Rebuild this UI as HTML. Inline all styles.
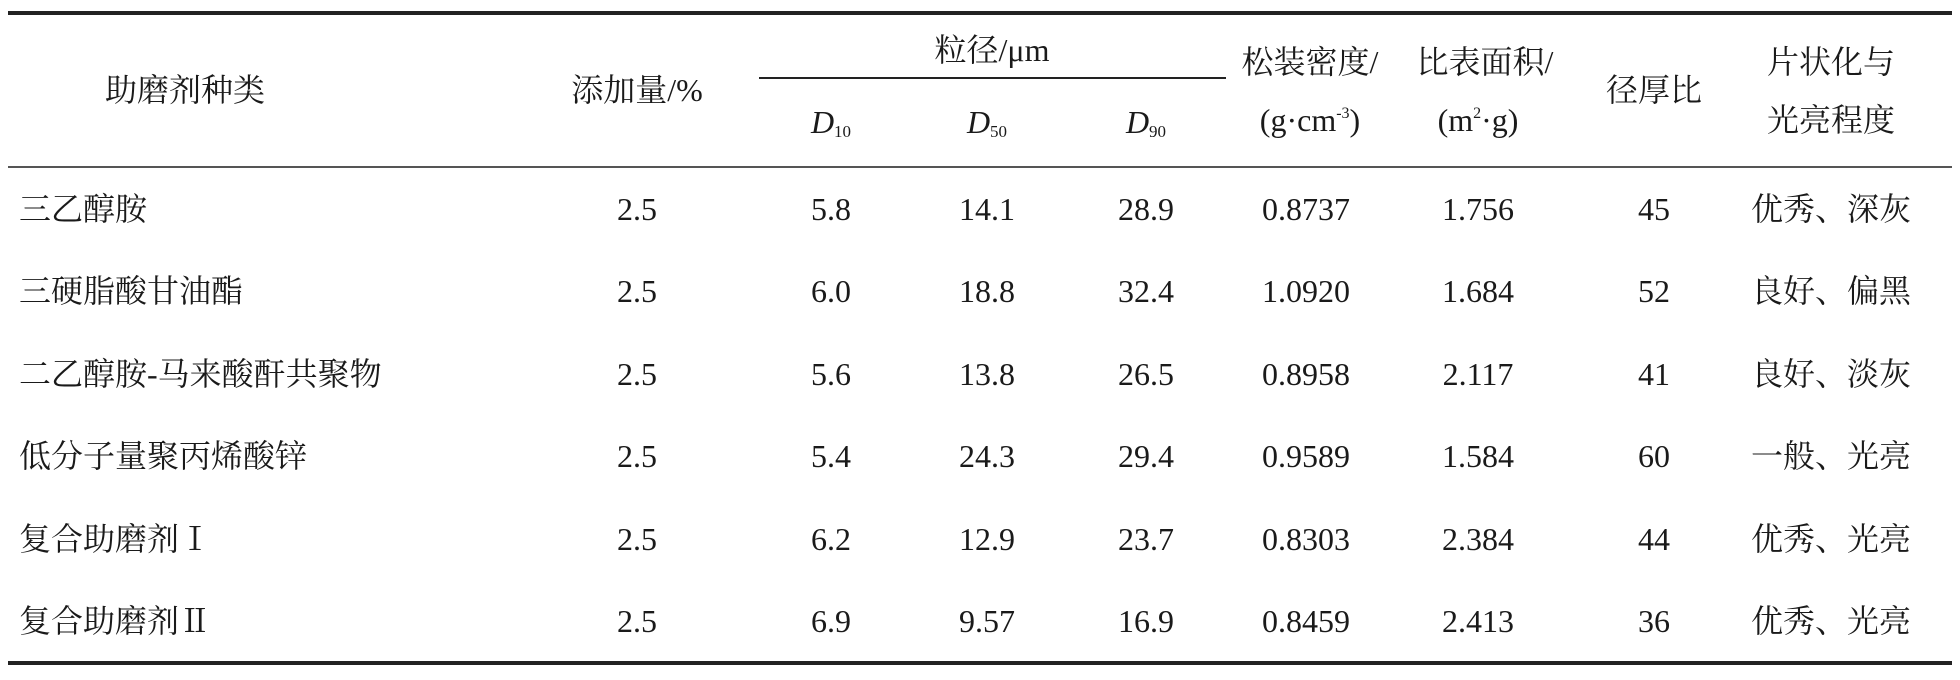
<!DOCTYPE html>
<html><head><meta charset="utf-8"><style>
body{margin:0;width:1960px;height:680px;background:#fff;position:relative;overflow:hidden;font-family:"Liberation Serif","Noto Serif CJK SC",serif;color:#1a1a1a}
.t{position:absolute;font-size:32px;line-height:1;white-space:nowrap;transform:translate(-50%,-50%)}
.l{transform:translate(0,-50%)}
.rule{position:absolute;background:#222}
sub{font-size:17px;vertical-align:-4px}
sup{font-size:16px;vertical-align:13px}
i{font-style:italic}
</style></head><body>
<div class="rule" style="left:8px;top:11px;width:1944px;height:4px"></div>
<div class="rule" style="left:759px;top:77px;width:467px;height:2px"></div>
<div class="rule" style="left:8px;top:166px;width:1944px;height:2px;background:#555"></div>
<div class="rule" style="left:8px;top:661px;width:1944px;height:4px"></div>

<div class="t" style="left:185px;top:90px">助磨剂种类</div>
<div class="t" style="left:637px;top:90px">添加量/%</div>
<div class="t" style="left:992px;top:50px">粒径/μm</div>
<div class="t" style="left:831px;top:123px"><i>D</i><sub>10</sub></div>
<div class="t" style="left:987px;top:123px"><i>D</i><sub>50</sub></div>
<div class="t" style="left:1146px;top:123px"><i>D</i><sub>90</sub></div>
<div class="t" style="left:1310px;top:62px">松装密度/</div>
<div class="t" style="left:1310px;top:120px">(g·cm<sup>-3</sup>)</div>
<div class="t" style="left:1485px;top:62px">比表面积/</div>
<div class="t" style="left:1478px;top:120px">(m<sup>2</sup>·g)</div>
<div class="t" style="left:1654px;top:90px">径厚比</div>
<div class="t" style="left:1831px;top:62px">片状化与</div>
<div class="t" style="left:1831px;top:120px">光亮程度</div>

<div id="rows"></div>
<script>
const names=["三乙醇胺","三硬脂酸甘油酯","二乙醇胺-马来酸酐共聚物","低分子量聚丙烯酸锌","复合助磨剂Ⅰ","复合助磨剂Ⅱ"];
const amount=["2.5","2.5","2.5","2.5","2.5","2.5"];
const d10=["5.8","6.0","5.6","5.4","6.2","6.9"];
const d50=["14.1","18.8","13.8","24.3","12.9","9.57"];
const d90=["28.9","32.4","26.5","29.4","23.7","16.9"];
const density=["0.8737","1.0920","0.8958","0.9589","0.8303","0.8459"];
const area=["1.756","1.684","2.117","1.584","2.384","2.413"];
const ratio=["45","52","41","60","44","36"];
const quality=["优秀、深灰","良好、偏黑","良好、淡灰","一般、光亮","优秀、光亮","优秀、光亮"];
const cols=[[amount,637,"amount"],[d10,831,"d10"],[d50,987,"d50"],[d90,1146,"d90"],[density,1306,"density"],[area,1478,"area"],[ratio,1654,"ratio"],[quality,1831,"quality"]];
const c=document.getElementById('rows');
names.forEach((n,i)=>{
  const y=209+i*82.4;
  const a=document.createElement('div');
  a.className='t l';a.style.left='19px';a.style.top=y+'px';a.textContent=n;
  
  
  c.appendChild(a);
  cols.forEach(([arr,x,k])=>{
    const d=document.createElement('div');
    d.className='t';d.style.left=x+'px';d.style.top=y+'px';d.textContent=arr[i];
    
    
    c.appendChild(d);
  });
});
</script>
</body></html>
